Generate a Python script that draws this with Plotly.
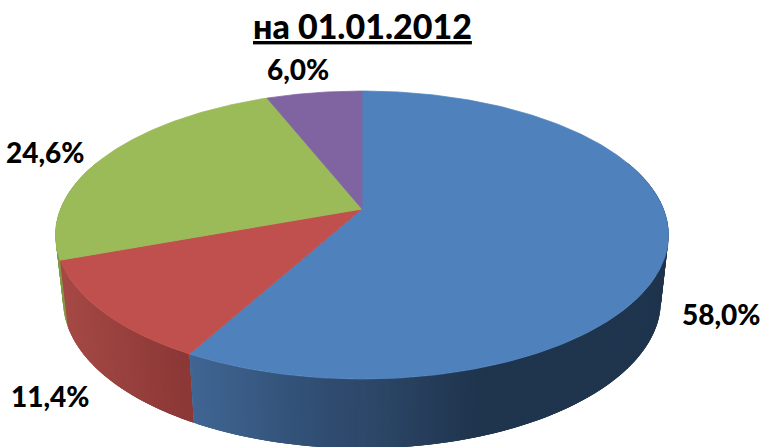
# -*- coding: utf-8 -*-
import numpy as np
import plotly.graph_objects as go

title = "на 01.01.2012"
values = [58.0, 11.4, 24.6, 6.0]
top_colors = ["#4f81bd", "#c0504d", "#9bbb59", "#8064a2"]
label_pos = [(721, 314), (50, 396), (45, 152), (298, 69)]

# wall shading, colour depends on screen x
wall_stops = [
    ([193, 300, 383, 480], [(65, 102, 148), (51, 82, 120), (43, 69, 101), (31, 52, 77)]),
    ([60, 190], [(166, 74, 70), (139, 56, 54)]),
    ([56, 70], [(130, 155, 70), (125, 150, 68)]),
    ([270, 360], [(96, 75, 122), (96, 75, 122)]),
]
step = 0.012

# perspective disc: circle of radius 1 seen from above
def rim(theta, cx, cy, a, b, k):
    sx = np.sin(theta)
    sy = np.cos(theta)
    d = 1 + k * sy
    return cx + a * sx / d, cy - b * sy / d

def top_rim(theta):
    return rim(theta, 362, 209, 301.5, 139.3, 0.1806)

def bottom_rim(theta):
    return rim(theta, 362, 274, 294, 143, 0.18)

def wall_color(i, x):
    xs, cols = wall_stops[i]
    rgb = [int(np.interp(x, xs, [c[n] for c in cols])) for n in range(3)]
    return "rgb(%d,%d,%d)" % tuple(rgb)

fig = go.Figure()

edges = np.cumsum([0] + values) / 100 * 2 * np.pi

# side wall strips, back ones first. they overlap a little so no seams show
strips = []
for i in range(len(values)):
    n = max(int((edges[i + 1] - edges[i]) / step), 1)
    t = np.linspace(edges[i], edges[i + 1], n + 1)
    for j in range(n):
        strips.append((i, t[j], t[j + 1]))
strips = [s for s in strips if np.cos((s[1] + s[2]) / 2) < 0.35]
strips.sort(key=lambda s: -np.cos((s[1] + s[2]) / 2))

for i, t0, t1 in strips:
    lo = max(t0 - step, edges[i])
    hi = min(t1 + step, edges[i + 1])
    ts = np.array([lo, t0, t1, hi])
    xt, yt = top_rim(ts)
    xb, yb = bottom_rim(ts[::-1])
    col = wall_color(i, xt.mean())
    fig.add_trace(go.Scatter(
        x=list(xt) + list(xb) + [xt[0]],
        y=list(yt) + list(yb) + [yt[0]],
        mode="lines",
        fill="toself",
        fillcolor=col,
        line=dict(color=col, width=0),
        hoverinfo="skip",
    ))

# top face slices
for i in range(len(values)):
    t = np.linspace(edges[i], edges[i + 1], 240)
    xs, ys = top_rim(t)
    fig.add_trace(go.Scatter(
        x=[362] + list(xs) + [362],
        y=[209] + list(ys) + [209],
        mode="lines",
        fill="toself",
        fillcolor=top_colors[i],
        line=dict(color=top_colors[i], width=0.75),
        hoverinfo="skip",
    ))

# percent labels
for v, (lx, ly) in zip(values, label_pos):
    fig.add_annotation(
        x=lx, y=ly, xref="x", yref="y", showarrow=False,
        text="%s%%" % ("%.1f" % v).replace(".", ","),
        font=dict(family="Lato, Open Sans, sans-serif", size=28, color="black", weight=900),
    )

fig.add_annotation(
    x=362, y=25, xref="x", yref="y", showarrow=False,
    text="<u>%s</u>" % title,
    font=dict(family="Lato, Open Sans, sans-serif", size=34, color="black", weight=900),
)

fig.update_layout(
    width=766, height=447,
    margin=dict(l=0, r=0, t=0, b=0),
    paper_bgcolor="white", plot_bgcolor="white",
    showlegend=False,
    xaxis=dict(range=[0, 766], visible=False, fixedrange=True),
    yaxis=dict(range=[447, 0], visible=False, fixedrange=True),
)

fig.write_html("out.html", config={"displayModeBar": False},
               post_script="document.body.style.margin='0';")
